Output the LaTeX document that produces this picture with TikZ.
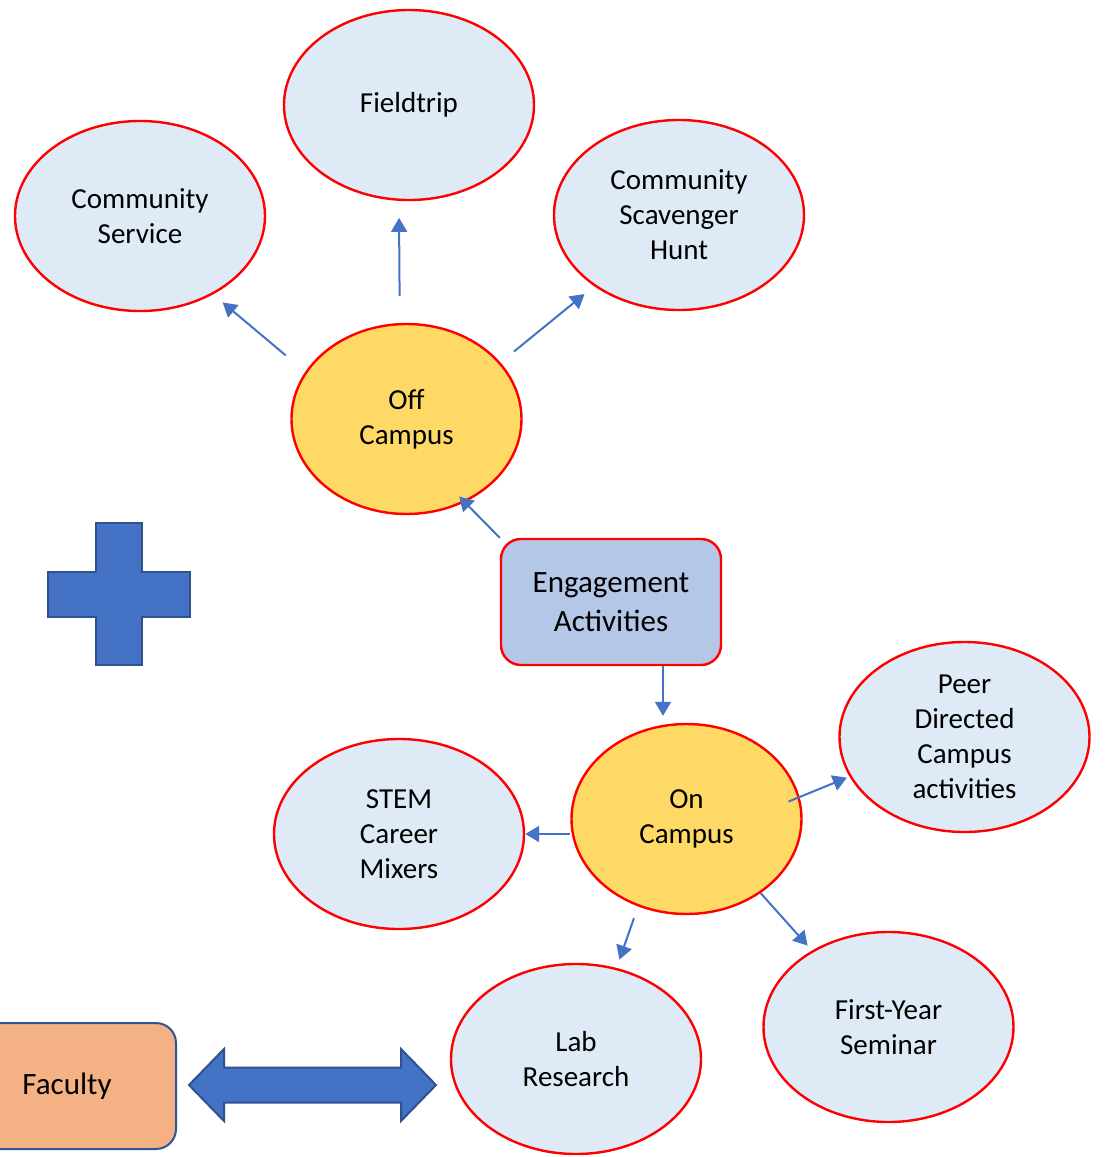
\documentclass[tikz,border=0pt]{standalone}
\usepackage{fontspec}
\setmainfont{Carlito}
\usetikzlibrary{arrows.meta,shapes.geometric}

\definecolor{ringred}{HTML}{FF0000}
\definecolor{paleblue}{HTML}{DEEBF7}
\definecolor{hubyellow}{HTML}{FFD966}
\definecolor{boxblue}{HTML}{B4C7E7}
\definecolor{facorange}{HTML}{F4B183}
\definecolor{facedge}{HTML}{2F5597}
\definecolor{linkblue}{HTML}{4472C4}
\definecolor{blockedge}{HTML}{2F528F}

\begin{document}
\begin{tikzpicture}[x=0.5pt,y=-0.5pt,
    >={Triangle[length=7pt,width=8pt]},
    bubble/.style={ellipse,draw=ringred,line width=1.2pt,fill=paleblue,
      minimum width=125pt,minimum height=95pt,inner sep=0pt,align=center,
      font=\fontsize{14.5}{17.5}\selectfont},
    hub/.style={bubble,fill=hubyellow,minimum width=115pt},
    topbox/.style={rectangle,rounded corners=10pt,draw=ringred,line width=1.2pt,
      fill=boxblue,minimum width=110pt,minimum height=63pt,align=center,
      font=\fontsize{15.5}{19.5}\selectfont},
    facbox/.style={rectangle,rounded corners=10pt,draw=facedge,line width=1pt,
      fill=facorange,minimum width=109pt,minimum height=63pt,
      font=\fontsize{15.5}{19.5}\selectfont},
    block/.style={fill=linkblue,draw=blockedge,line width=1pt},
    link/.style={->,draw=linkblue,line width=1pt}]
  \useasboundingbox (0,0) rectangle (1107,1157);

  \node[bubble] (cs) at (140,216) {Community\\Service};
  \node[bubble] (ft) at (409,105) {Fieldtrip};
  \node[bubble] (csh) at (679,215) {Community\\Scavenger\\Hunt};
  \node[hub] (off) at (406.5,419) {Off\\Campus};

  \node[topbox] (ea) at (611,602) {Engagement\\Activities};

  \node[hub] (on) at (686.5,819) {On\\Campus};
  \node[bubble] (pd) at (964.5,737) {Peer\\Directed\\Campus\\activities};
  \node[bubble] (stem) at (399,834) {STEM\\Career\\Mixers};
  \node[bubble] (lab) at (576,1059) {Lab\\Research};
  \node[bubble] (fy) at (888.5,1027) {First-Year\\Seminar};

  \node[facbox] (fac) at (67,1086) {Faculty};

  % plus sign
  \filldraw[block] (96,523) -- (142,523) -- (142,572) -- (190,572) -- (190,617)
    -- (142,617) -- (142,665) -- (96,665) -- (96,617) -- (48,617) -- (48,572)
    -- (96,572) -- cycle;

  % two-headed block arrow
  \filldraw[block] (189,1085) -- (224,1049) -- (224,1067.5) -- (401,1067.5)
    -- (401,1049) -- (436,1085) -- (401,1121) -- (401,1102.5) -- (224,1102.5)
    -- (224,1121) -- cycle;

  \draw[link, shorten <=12.8pt, shorten >=6.2pt] (off.155) -- (cs.-47);
  \draw[link, shorten <=13.5pt, shorten >=8.5pt] (off.94) -- (ft.-96);
  \draw[link, shorten <=8.7pt, shorten >=6.2pt] (off.31) -- (csh.-140);
  \draw[link, shorten >=-4pt] (ea.north west) -- (off.-55);

  \coordinate (drop) at ([xshift=26pt]ea.south);
  \draw[link, shorten >=3.5pt] (drop) -- (drop |- on.north);
  \draw[link] (on.west |- stem.east) -- (stem.east);
  \draw[link, shorten <=-6pt, shorten >=1.4pt] (on.11) -- (pd.-161);
  \draw[link, shorten <=6.2pt, shorten >=4.4pt] (on.-119) -- (lab.66);
  \draw[link, shorten >=3.3pt] (on.-45) -- (fy.135);
\end{tikzpicture}
\end{document}
